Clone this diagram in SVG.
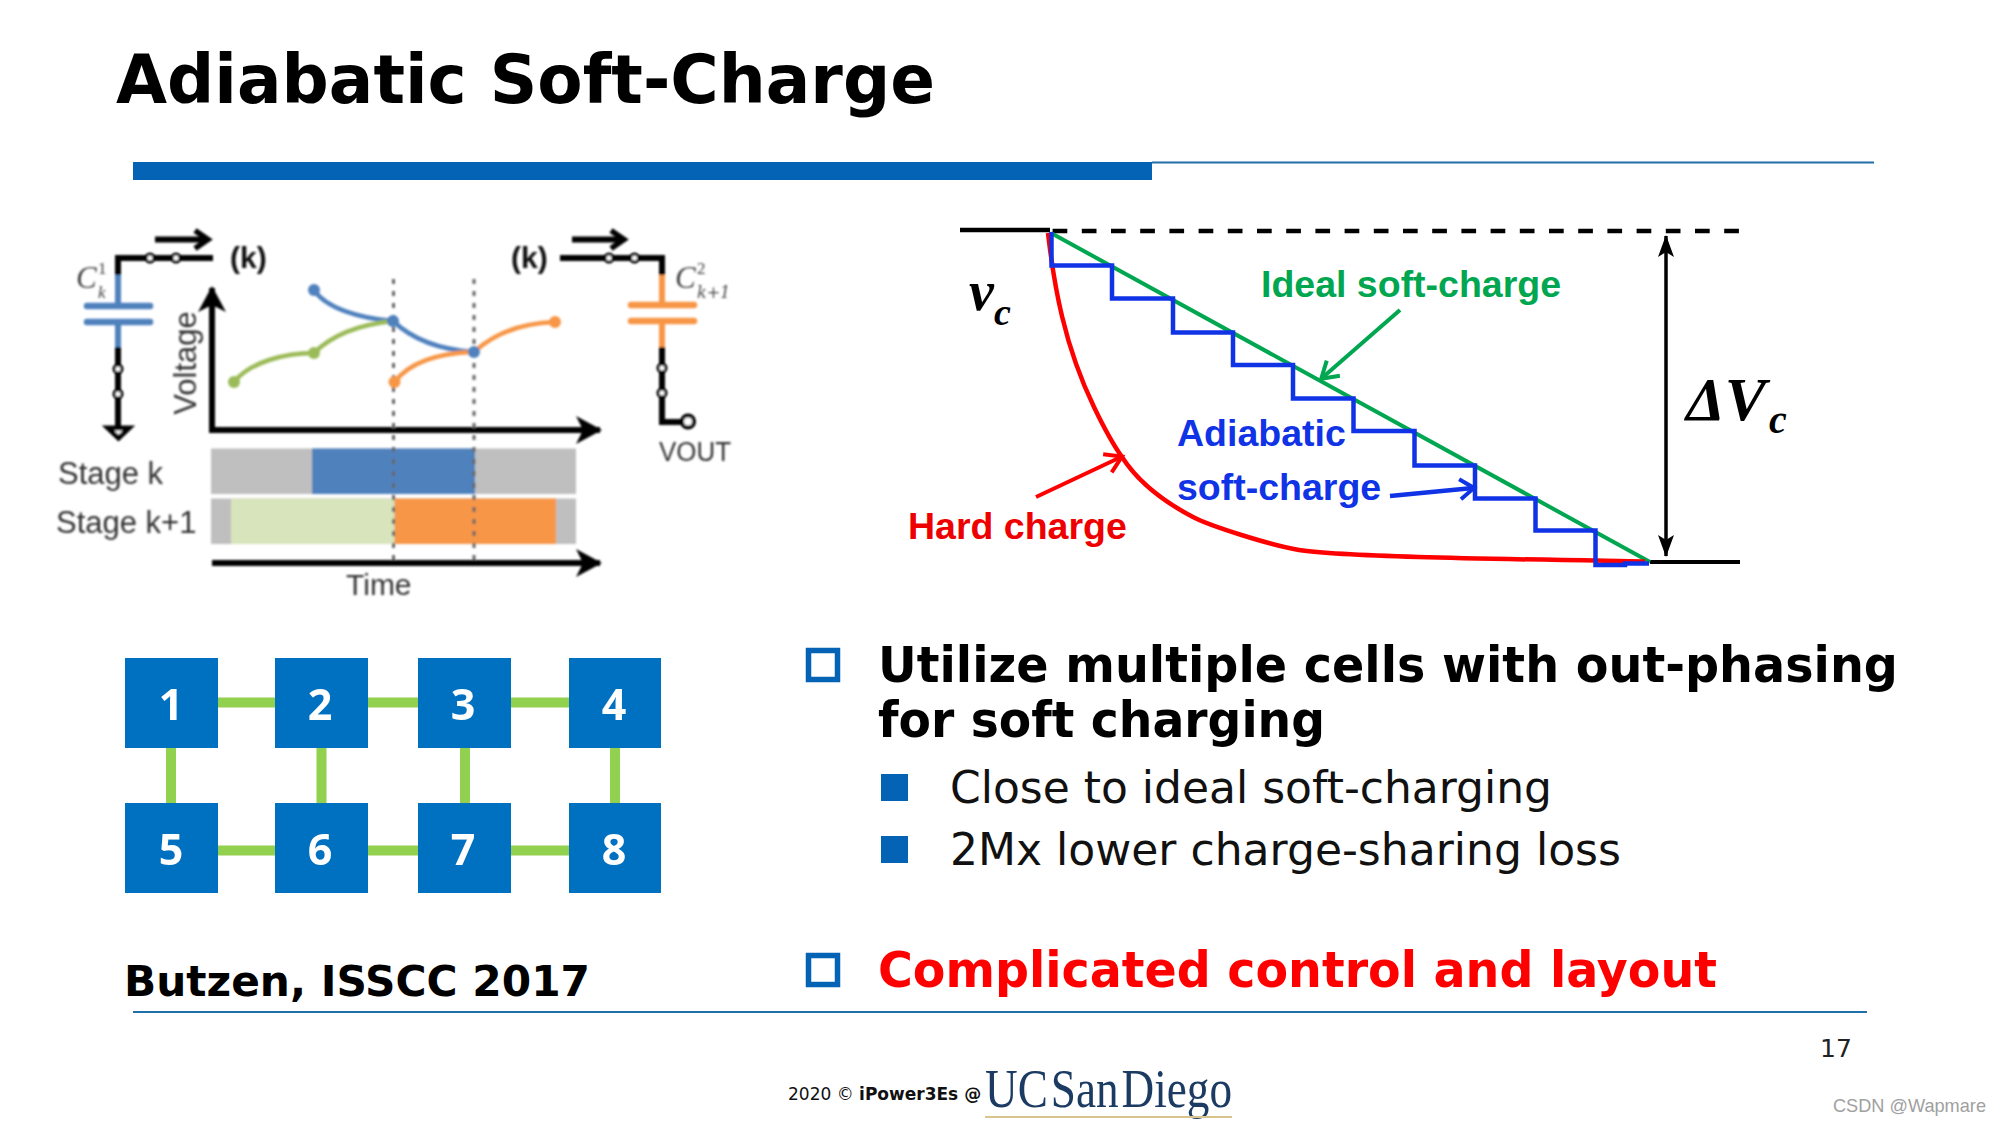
<svg xmlns="http://www.w3.org/2000/svg" width="2000" height="1125" viewBox="0 0 2000 1125">
<style>
text{font-family:"DejaVu Sans",Verdana,sans-serif}
.ls{font-family:"Liberation Sans",Arial,sans-serif}
.lsb{font-family:"Liberation Sans",Arial,sans-serif;font-weight:700}
.ser{font-family:"Liberation Serif","Times New Roman",serif;font-style:italic;font-weight:700}
.hd{font-weight:700;font-size:49px}
.sub{font-size:44px;fill:#111}
.box{fill:#0470c0}
.num{font-family:"Open Sans",sans-serif;font-size:43px;font-weight:700;fill:#fff;text-anchor:middle}
.link{stroke:#92d050;stroke-width:10;fill:none}
.wire{stroke:#000;stroke-width:6;fill:none;stroke-linecap:square}
.sw{fill:#fff;stroke:#000;stroke-width:3}
.arr{stroke:#000;stroke-width:6;fill:none}
.gr{fill:#333;font-size:31px}
.hol{fill:none;stroke:#0563b5;stroke-width:5.5}
.sol{fill:#0563b5}
.dot{stroke:#666;stroke-width:3;stroke-dasharray:5 7;fill:none}
.math{font-family:"Liberation Serif",serif;fill:#444;font-style:italic}
.mathd{font-family:"DejaVu Serif",serif;fill:#444;font-style:italic}
</style>
<defs>
<filter id="soft" x="-5%" y="-5%" width="110%" height="110%"><feGaussianBlur stdDeviation="0.9"/></filter>
<filter id="soft2" x="-5%" y="-5%" width="110%" height="110%"><feGaussianBlur stdDeviation="0.6"/></filter>
<marker id="open" markerUnits="userSpaceOnUse" markerWidth="30" markerHeight="30" refX="24" refY="15" orient="auto"><path d="M11 6L24 15L11 24" fill="none" stroke="#000" stroke-width="5.500"/></marker>
<marker id="solidk" markerUnits="userSpaceOnUse" markerWidth="34" markerHeight="34" refX="28" refY="17" orient="auto"><path d="M4 3L30 17L4 31L11 17Z" fill="#000"/></marker>
<marker id="g" markerUnits="userSpaceOnUse" markerWidth="30" markerHeight="30" refX="22" refY="15" orient="auto"><path d="M7 5L23 15L7 25" fill="none" stroke="#00a650" stroke-width="4"/></marker>
<marker id="b" markerUnits="userSpaceOnUse" markerWidth="30" markerHeight="30" refX="22" refY="15" orient="auto"><path d="M9 5L23 15L9 25" fill="none" stroke="#1033e6" stroke-width="4"/></marker>
<marker id="r" markerUnits="userSpaceOnUse" markerWidth="30" markerHeight="30" refX="22" refY="15" orient="auto"><path d="M7 5L23 15L7 25" fill="none" stroke="#f00" stroke-width="4"/></marker>
<marker id="d" markerUnits="userSpaceOnUse" markerWidth="30" markerHeight="30" refX="25" refY="15" orient="auto-start-reverse"><path d="M4 7L26 15L4 23L9 15Z" fill="#000"/></marker>
</defs>
<rect width="2000" height="1125" fill="#fff"/>

<g id="title">
<text x="116" y="103" font-size="68" font-weight="700" textLength="819" lengthAdjust="spacingAndGlyphs">Adiabatic Soft-Charge</text>
<rect x="133" y="162" width="1019" height="18" fill="#0563b5"/>
<rect x="1152" y="161.500" width="722" height="2" fill="#1f6fa8"/>
</g>

<g id="timing-figure" filter="url(#soft)">
<g id="stage-bars">
<rect x="211" y="448.500" width="365" height="45.500" fill="#bfbfbf"/>
<rect x="312" y="448.500" width="163" height="45.500" fill="#4f81bd"/>
<rect x="211" y="498.500" width="365" height="45.500" fill="#bfbfbf"/>
<rect x="231" y="498.500" width="163.500" height="45.500" fill="#d8e4bc"/>
<rect x="394.500" y="498.500" width="161.500" height="45.500" fill="#f79646"/>
</g>
<g id="axes">
<path class="arr" d="M212 430V288" marker-end="url(#solidk)"/>
<path class="arr" d="M209 430H600" marker-end="url(#solidk)"/>
<path class="arr" d="M212 563H600" marker-end="url(#solidk)"/>
</g>
<path class="dot" d="M393.500 279V564M474 279V564"/>
<g id="curves" fill="none" stroke-width="4.500">
<path stroke="#4f81bd" d="M314 290C326 308 358 318 393 321C415 342 445 350 474 352"/>
<path stroke="#9bbb59" d="M234 382C250 362 285 353 314 353C335 332 365 324 393 321"/>
<path stroke="#f79646" d="M394.500 382C410 362 440 353 474 352C495 333 520 323 555 322"/>
<circle cx="314" cy="290" r="6" fill="#4f81bd" stroke="none"/><circle cx="393" cy="321" r="6" fill="#4f81bd" stroke="none"/><circle cx="474" cy="352" r="6" fill="#4f81bd" stroke="none"/>
<circle cx="234" cy="382" r="6" fill="#9bbb59" stroke="none"/><circle cx="314" cy="353" r="6" fill="#9bbb59" stroke="none"/>
<circle cx="394.500" cy="382" r="6" fill="#f79646" stroke="none"/><circle cx="555" cy="322" r="6" fill="#f79646" stroke="none"/>
</g>
<g id="cap-left">
<path class="wire" d="M118 275V258H210"/>
<path class="wire" d="M118 347V427"/>
<path d="M118 275V306M118 322V347" stroke="#4f81bd" stroke-width="6" fill="none"/>
<path d="M87 306H150M87 322H150" stroke="#4f81bd" stroke-width="6.500" stroke-linecap="round"/>
<circle class="sw" cx="150" cy="258" r="4"/><circle class="sw" cx="176" cy="258" r="4"/>
<circle class="sw" cx="118" cy="369" r="4"/><circle class="sw" cx="118" cy="394" r="4"/>
<path d="M108 428H129L118.500 438Z" fill="#fff" stroke="#000" stroke-width="5"/>
<path d="M155 239.500H208" class="arr" marker-end="url(#open)"/>
</g>
<g id="cap-right">
<path class="wire" d="M563 258H662V275"/>
<path class="wire" d="M662 347V422H682"/>
<path d="M662 275V305M662 321V347" stroke="#f79646" stroke-width="6" fill="none"/>
<path d="M631 305H694M631 321H694" stroke="#f79646" stroke-width="6.500" stroke-linecap="round"/>
<circle class="sw" cx="609" cy="258" r="4"/><circle class="sw" cx="634.500" cy="258" r="4"/>
<circle class="sw" cx="662" cy="368" r="4"/><circle class="sw" cx="662" cy="393" r="4"/>
<circle cx="688" cy="421.500" r="6" fill="#fff" stroke="#000" stroke-width="4"/>
<path d="M572 239.500H624" class="arr" marker-end="url(#open)"/>
</g>
<g id="fig-labels">
<text class="lsb" x="230" y="268" font-size="30" fill="#111">(k)</text>
<text class="lsb" x="511" y="268" font-size="30" fill="#111">(k)</text>
<text class="ls gr" x="659" y="461" style="font-size:27px" textLength="72" lengthAdjust="spacingAndGlyphs">VOUT</text>
<text class="ls gr" x="58" y="484">Stage k</text>
<text class="ls gr" x="56" y="533">Stage k+1</text>
<text class="ls gr" x="346" y="595" style="font-size:30px">Time</text>
<text class="ls gr" transform="translate(196 363) rotate(-90)" text-anchor="middle">Voltage</text>
<text class="math" x="76" y="288" font-size="31">C</text>
<text class="math" x="98" y="274" font-size="17" style="font-style:normal">1</text>
<text class="math" x="98" y="298" font-size="17">k</text>
<text class="math" x="675" y="288" font-size="31">C</text>
<text class="math" x="697" y="274" font-size="17" style="font-style:normal">2</text>
<text class="mathd" x="697" y="298" font-size="16">k+1</text>
</g>
</g>

<g id="charge-plot">
<g id="connectors">
<path d="M960 230H1050" stroke="#000" stroke-width="4.500"/>
<path d="M1052.600 231H1739.500" stroke="#000" stroke-width="4.500" stroke-dasharray="14.700 14.500"/>
<path d="M1650 562H1740" stroke="#000" stroke-width="4"/>
<path d="M1666 236V556" stroke="#000" stroke-width="3.500" marker-start="url(#d)" marker-end="url(#d)"/>
<path d="M1051 233L1650 562" stroke="#00a650" stroke-width="4" fill="none"/>
<path d="M1048 233C1054 285 1064 345 1094 407C1105 430 1112 443 1122 457C1140 485 1170 505 1193 517C1210 526 1270 545 1299 550C1345 557 1500 559 1645 561.500" stroke="#f00" stroke-width="4.500" fill="none"/>
<path d="M1051.500 232V265.500H1112V298.500H1173V332.500H1233V365H1293V398.500H1353.500V431H1414.500V465.500H1475V498.500H1535.500V530.500H1595.500V565H1625V563.500H1649" stroke="#1033e6" stroke-width="4.500" fill="none"/>
<path d="M1400 310L1322 378" stroke="#00a650" stroke-width="4" fill="none" marker-end="url(#g)"/>
<path d="M1390 496L1473 488" stroke="#1033e6" stroke-width="4.500" fill="none" marker-end="url(#b)"/>
<path d="M1036 497L1121 457" stroke="#f00" stroke-width="4" fill="none" marker-end="url(#r)"/>
</g>
<text class="ser" x="969" y="310" font-size="56">v</text>
<text class="ser" x="994" y="325" font-size="38">c</text>
<text class="ser" x="1686" y="420" font-size="62">ΔV</text>
<text class="ser" x="1769" y="433" font-size="40">c</text>
<text class="lsb" x="1261" y="297" font-size="37.500" fill="#00a650">Ideal soft-charge</text>
<text class="lsb" x="1177" y="446" font-size="37.500" fill="#1033e6">Adiabatic</text>
<text class="lsb" x="1177" y="500" font-size="37.500" fill="#1033e6">soft-charge</text>
<text class="lsb" x="908" y="539" font-size="37.500" fill="#e00">Hard charge</text>
</g>

<g id="mesh" filter="url(#soft2)">
<g id="mesh-connectors">
<path class="link" d="M217 702.500H275M368 702.500H418M511 702.500H569M217 850.500H275M368 850.500H418M511 850.500H569M171 748V803M321.500 748V803M465 748V803M615 748V803"/>
</g>
<g id="node-1"><rect class="box" x="125" y="658" width="93" height="90"/><text class="num" x="171" y="720">1</text></g>
<g id="node-2"><rect class="box" x="275" y="658" width="93" height="90"/><text class="num" x="320" y="720">2</text></g>
<g id="node-3"><rect class="box" x="418" y="658" width="93" height="90"/><text class="num" x="463" y="720">3</text></g>
<g id="node-4"><rect class="box" x="569" y="658" width="92" height="90"/><text class="num" x="614" y="720">4</text></g>
<g id="node-5"><rect class="box" x="125" y="803" width="93" height="90"/><text class="num" x="171" y="865">5</text></g>
<g id="node-6"><rect class="box" x="275" y="803" width="93" height="90"/><text class="num" x="320" y="865">6</text></g>
<g id="node-7"><rect class="box" x="418" y="803" width="93" height="90"/><text class="num" x="463" y="865">7</text></g>
<g id="node-8"><rect class="box" x="569" y="803" width="92" height="90"/><text class="num" x="614" y="865">8</text></g>
</g>

<g id="bullets">
<rect class="hol" x="808.500" y="650.500" width="29" height="29"/>
<text class="hd" x="878" y="682" textLength="1020" lengthAdjust="spacingAndGlyphs">Utilize multiple cells with out-phasing</text>
<text class="hd" x="878" y="737" textLength="447" lengthAdjust="spacingAndGlyphs">for soft charging</text>
<rect class="sol" x="881" y="774" width="27" height="27"/>
<text class="sub" x="950" y="803" textLength="602" lengthAdjust="spacingAndGlyphs">Close to ideal soft-charging</text>
<rect class="sol" x="881" y="836" width="27" height="27"/>
<text class="sub" x="950" y="865" textLength="671" lengthAdjust="spacingAndGlyphs">2Mx lower charge-sharing loss</text>
<rect class="hol" x="808.500" y="955.500" width="29" height="29"/>
<text class="hd" x="878" y="987" fill="#f00" textLength="839" lengthAdjust="spacingAndGlyphs">Complicated control and layout</text>
</g>

<g id="footer">
<text x="124" y="996" font-size="43" font-weight="700" textLength="466" lengthAdjust="spacingAndGlyphs">Butzen, ISSCC 2017</text>
<rect x="133" y="1011" width="1734" height="2" fill="#1f6fa8"/>
<text x="1820" y="1057" font-size="25" fill="#222">17</text>
<text x="788" y="1100" font-size="17" fill="#111">2020 © <tspan font-weight="700">iPower3Es @</tspan></text>
<g filter="url(#soft2)">
<text x="985" y="1107" font-size="54" fill="#1b3a63" textLength="247" lengthAdjust="spacingAndGlyphs" style="font-family:'Liberation Serif',serif;word-spacing:-10px">UC San Diego</text>
<rect x="985" y="1116" width="247" height="2" fill="#d9c48e"/>
</g>
<text class="ls" x="1833" y="1112" font-size="19" fill="#a0a0a0" textLength="153" lengthAdjust="spacingAndGlyphs">CSDN @Wapmare</text>
</g>
</svg>
